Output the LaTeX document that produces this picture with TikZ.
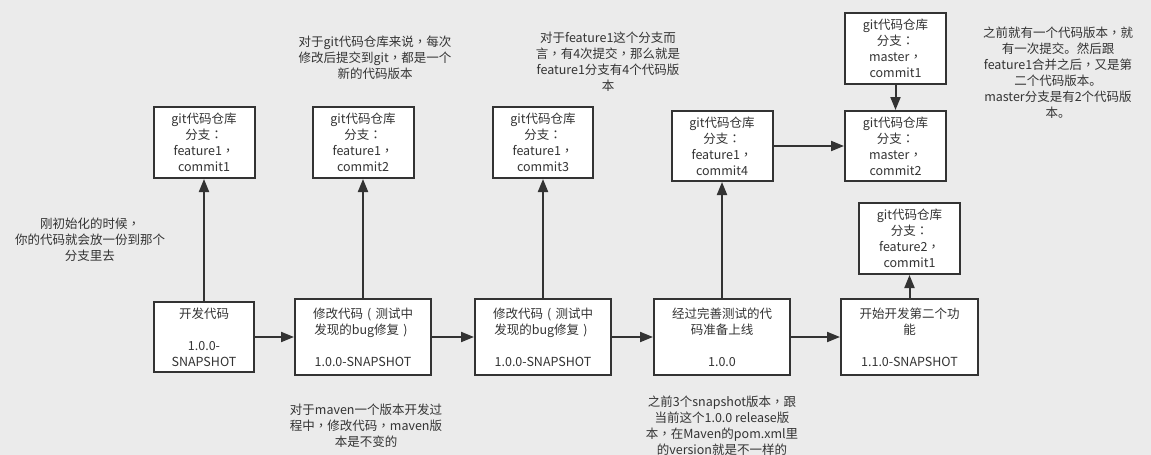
\documentclass[tikz,border=0pt]{standalone}
\usepackage{fontspec}
\setmainfont{Noto Sans CJK SC}
\newfontfamily\tcfont{Noto Sans CJK TC}
\newcommand{\cm}{{\tcfont ，}}
\newcommand{\cl}{{\tcfont ：}}
\newcommand{\lp}{\makebox[1em]{(}}
\newcommand{\rp}{\makebox[1em]{)}}
\usetikzlibrary{arrows.meta}
\definecolor{bg}{HTML}{EBEBEB}
\definecolor{ink}{HTML}{333333}
\begin{document}
\begin{tikzpicture}[x=1pt,y=-1pt,
  txt/.style={inner sep=0pt, align=center, text=ink, font=\fontsize{12.5}{16}\selectfont},
  box/.style={txt, draw=ink, line width=2pt, fill=white},
  gbox/.style={box, minimum width=101pt, minimum height=71pt},
  mbox/.style={box, minimum width=136pt, minimum height=76pt},
  conn/.style={draw=ink, line width=2pt, -{Triangle[length=13pt,width=10pt]}}]
\fill[bg] (0,0) rectangle (1151,455);
\useasboundingbox (0,0) rectangle (1151,455);

% git boxes
\node[gbox] (g1) at (204,142.5) {git代码仓库\\分支\cl\\feature1\cm\\commit1};
\node[gbox] (g2) at (363,142.5) {git代码仓库\\分支\cl\\feature1\cm\\commit2};
\node[gbox, minimum width=100pt] (g3) at (543,142.5) {git代码仓库\\分支\cl\\feature1\cm\\commit3};
\node[gbox, minimum height=70pt] (g4) at (722,146) {git代码仓库\\分支\cl\\feature1\cm\\commit4};
\node[gbox] (m1) at (895.5,48.5) {git代码仓库\\分支\cl\\master\cm\\commit1};
\node[gbox, minimum height=70pt] (m2) at (895.5,146) {git代码仓库\\分支\cl\\master\cm\\commit2};
\node[gbox] (f2) at (909.5,238.5) {git代码仓库\\分支\cl\\feature2\cm\\commit1};

% maven boxes
\node[box, minimum width=100pt, minimum height=70pt] (b1) at (204,337) {开发代码\\[16pt]1.0.0-\\SNAPSHOT};
\node[mbox] (b2) at (363,337) {修改代码\lp 测试中\\发现的bug修复\rp\\[16pt]1.0.0-SNAPSHOT};
\node[mbox] (b3) at (543,337) {修改代码\lp 测试中\\发现的bug修复\rp\\[16pt]1.0.0-SNAPSHOT};
\node[mbox] (b4) at (722,337) {经过完善测试的代\\码准备上线\\[16pt]1.0.0};
\node[mbox, minimum width=137pt] (b5) at (909.5,337) {开始开发第二个功\\能\\[16pt]1.1.0-SNAPSHOT};

% connectors
\draw[conn] (b1) -- (b2);
\draw[conn] (b2) -- (b3);
\draw[conn] (b3) -- (b4);
\draw[conn] (b4) -- (b5);
\draw[conn] (b1) -- (g1);
\draw[conn] (b2) -- (g2);
\draw[conn] (b3) -- (g3);
\draw[conn] (b4) -- (g4);
\draw[conn] (b5) -- (f2);
\draw[conn] (g4) -- (m2);
\draw[conn] (m1) -- (m2);

% notes
\node[txt] (n1) at (375,57.5) {对于git代码仓库来说\cm 每次\\修改后提交到git\cm 都是一个\\新的代码版本};
\node[txt] (n2) at (608,62) {对于feature1这个分支而\\言\cm 有4次提交\cm 那么就是\\feature1分支有4个代码版\\本};
\node[txt] (n3) at (1058,73) {之前就有一个代码版本\cm 就\\有一次提交。然后跟\\feature1合并之后\cm 又是第\\二个代码版本。\\master分支是有2个代码版\\本。};
\node[txt] (n4) at (90,240) {刚初始化的时候\cm\\你的代码就会放一份到那个\\分支里去};
\node[txt] (n5) at (366,426) {对于maven一个版本开发过\\程中\cm 修改代码\cm maven版\\本是不变的};
\node[txt] (n6) at (722,425.5) {之前3个snapshot版本\cm 跟\\当前这个1.0.0 release版\\本\cm 在Maven的pom.xml里\\的version就是不一样的};
\end{tikzpicture}
\end{document}
